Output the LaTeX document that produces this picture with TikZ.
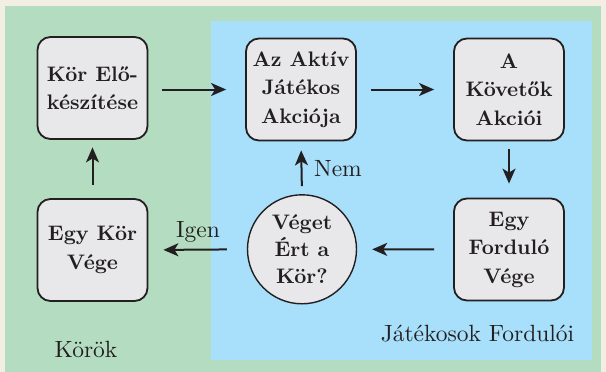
\documentclass[tikz,border=0pt]{standalone}
\usepackage{fontspec}
\setmainfont{lmroman10-regular}[Extension=.otf, BoldFont=lmroman10-bold]
\usetikzlibrary{arrows.meta}
\definecolor{bgbeige}{RGB}{242,238,228}
\definecolor{kgreen}{RGB}{179,220,193}
\definecolor{kblue}{RGB}{168,223,250}
\definecolor{boxfill}{RGB}{232,232,234}
\definecolor{ink}{RGB}{35,31,32}
\tikzset{
  stepbox/.style={draw=ink, line width=1.8pt, fill=boxfill, rounded corners=13pt,
    minimum width=110pt, minimum height=102pt, align=center, inner sep=0pt,
    text=ink, font=\fontsize{21}{28.5}\selectfont\bfseries},
  decision/.style={draw=ink, line width=1.4pt, fill=boxfill, circle,
    minimum size=109pt, align=center, inner sep=0pt,
    text=ink, font=\fontsize{21}{27}\selectfont\bfseries},
  flow/.style={draw=ink, line width=2pt, -{Stealth[length=15pt,width=13pt,inset=4pt]}},
  lbl/.style={text=ink, inner sep=0pt, font=\fontsize{23.5}{28}\selectfont}
}
\begin{document}
\begin{tikzpicture}[x=1pt,y=-1pt]
\useasboundingbox (0,0) rectangle (606,372);
\fill[bgbeige] (0,0) rectangle (606,372);
\fill[kgreen] (5,6) rectangle (601,372);
\fill[kblue] (211,21) rectangle (592,360);

\node[stepbox] (prep) at (92.5,88) {Kör Elő-\\készítése};
\node[stepbox] (aktiv) at (301,89.5) {Az Aktív\\Játékos\\Akciója};
\node[stepbox] (kovet) at (509,89.5) {A\\Követők\\Akciói};
\node[stepbox] (fordv) at (509,249.5) {Egy\\Forduló\\Vége};
\node[stepbox] (korv) at (92.5,250) {Egy Kör\\Vége};
\node[decision] (dont) at (302,249.3) {Véget\\Ért a\\Kör?};

\draw[flow, shorten <=14pt, shorten >=19pt] (prep.east |- aktiv.west) -- (aktiv.west);
\draw[flow, shorten <=14pt, shorten >=19pt] (aktiv.east) -- (kovet.west);
\draw[flow, shorten <=8pt, shorten >=14pt] (kovet.south) -- (fordv.north);
\draw[flow, shorten <=19pt, shorten >=15pt] (fordv.west) -- (dont.east);
\draw[flow, shorten <=20pt, shorten >=15pt] (dont.west) -- (korv.east);
\draw[flow, shorten <=8pt, shorten >=9pt] (dont.north) -- (aktiv.south);
\draw[flow, shorten <=13pt, shorten >=7.5pt] (korv.north) -- (prep.south);

\node[lbl] (igen) at (198,232) {Igen};
\node[lbl] (nem) at (338,169) {Nem};
\node[lbl] (korok) at (86,349) {Körök};
\node[lbl] (jatek) at (477.5,334) {Játékosok Fordulói};
\end{tikzpicture}
\end{document}
